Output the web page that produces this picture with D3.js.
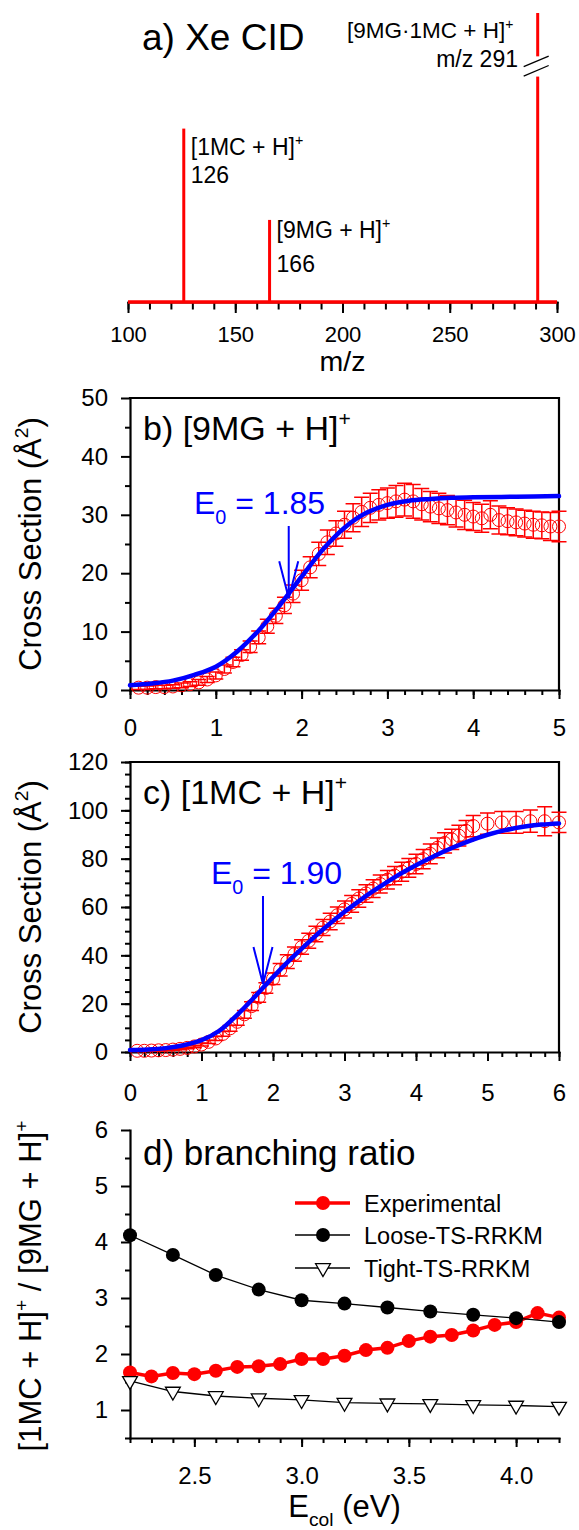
<!DOCTYPE html>
<html>
<head>
<meta charset="utf-8">
<script src="https://cdn.jsdelivr.net/npm/d3@7"></script>
<style>
  body { margin: 0; background: #fff; }
  text { font-family: "Liberation Sans", Arial, sans-serif; }
</style>
</head>
<body>
<svg id="fig" width="579" height="1530"></svg>
<script>
// a) mass spectrum
var mzPeaks = [126, 166, 291];
var peakHeights = [60, 28.4, 100];
var peakBreak = [78, 85];
var mzTicks = [100, 150, 200, 250, 300];

// b) [9MG+H]+ cross section
var eB = [0.1, 0.2, 0.3, 0.4, 0.5, 0.6, 0.7, 0.8, 0.9, 1.0,
  1.1, 1.2, 1.3, 1.4, 1.5, 1.6, 1.7, 1.8, 1.9, 2.0,
  2.1, 2.2, 2.3, 2.4, 2.5, 2.6, 2.7, 2.8, 2.9, 3.0,
  3.1, 3.2, 3.3, 3.4, 3.5, 3.6, 3.7, 3.8, 3.9, 4.0,
  4.1, 4.2, 4.3, 4.4, 4.5, 4.6, 4.7, 4.8, 4.9, 5.0];
var sigB = [0.4, 0.4, 0.5, 0.5, 0.6, 0.8, 1.0, 1.3, 1.8, 2.5,
  3.6, 4.8, 6.0, 7.4, 9.0, 10.9, 12.7, 14.5, 16.5, 18.8,
  21.0, 23.3, 25.3, 26.8, 28.3, 29.5, 30.5, 31.2, 31.7, 32.0,
  32.3, 32.6, 32.3, 31.8, 31.4, 31.1, 30.8, 30.4, 30.0, 29.7,
  29.4, 30.0, 29.1, 28.9, 28.7, 28.5, 28.3, 28.2, 28.0, 28.0];
var errB = [0.3, 0.3, 0.3, 0.3, 0.3, 0.4, 0.4, 0.5, 0.5, 0.6,
  0.7, 0.8, 0.9, 1.0, 1.1, 1.2, 1.3, 1.4, 1.5, 1.7,
  1.8, 2.0, 2.1, 2.2, 2.3, 2.4, 2.5, 2.5, 2.6, 2.6,
  2.7, 2.8, 2.9, 2.7, 2.6, 2.6, 2.5, 2.5, 2.5, 2.4,
  2.4, 2.4, 2.4, 2.3, 2.3, 2.3, 2.3, 2.3, 2.4, 2.6];
var fitBE = [0, 0.25, 0.5, 0.75, 1, 1.25, 1.5, 1.75, 2, 2.25, 2.5, 2.75, 3, 3.25, 3.5, 3.75, 4, 4.5, 5];
var fitBV = [0.8, 1.1, 1.6, 2.6, 4.0, 6.6, 10.2, 14.6, 19.4, 24.1, 27.8, 30.3, 31.7, 32.4, 32.7, 32.9, 33.0, 33.1, 33.2];
var arrowB = { e: 1.85, top: 28.1, tip: 15.7 };

// c) [1MC+H]+ cross section
var eC = [0.1, 0.2, 0.3, 0.4, 0.5, 0.6, 0.7, 0.8, 0.9, 1.0,
  1.1, 1.2, 1.3, 1.4, 1.5, 1.6, 1.7, 1.8, 1.9, 2.0,
  2.1, 2.2, 2.3, 2.4, 2.5, 2.6, 2.7, 2.8, 2.9, 3.0,
  3.1, 3.2, 3.3, 3.4, 3.5, 3.6, 3.7, 3.8, 3.9, 4.0,
  4.1, 4.2, 4.3, 4.4, 4.5, 4.6, 4.7, 4.8,
  5.0, 5.2, 5.4, 5.6, 5.8, 6.0];
var sigC = [0.5, 0.5, 0.6, 0.7, 0.8, 1.0, 1.3, 1.7, 2.3, 3.1,
  4.2, 5.6, 7.5, 9.8, 12.5, 15.6, 19.0, 22.6, 26.5, 30.3,
  34.0, 37.4, 40.5, 43.4, 46.0, 48.8, 51.5, 54.0, 56.6, 59.0,
  61.3, 63.5, 65.6, 67.6, 69.5, 71.3, 73.0, 74.6, 76.2, 77.8,
  79.8, 82.0, 84.5, 86.5, 88.0, 89.5, 91.5, 93.5,
  94.5, 95.0, 95.0, 95.5, 95.5, 95.0];
var errC = [0.3, 0.3, 0.3, 0.3, 0.3, 0.3, 0.4, 0.4, 0.5, 0.6,
  0.7, 0.8, 1.0, 1.2, 1.4, 1.6, 1.8, 2.0, 2.2, 2.4,
  2.6, 2.8, 2.9, 3.0, 3.1, 3.2, 3.3, 3.4, 3.4, 3.5,
  3.5, 3.6, 3.6, 3.7, 3.7, 3.8, 3.8, 3.9, 3.9, 4.0,
  4.0, 4.1, 4.1, 4.2, 4.2, 4.3, 4.3, 4.4,
  4.4, 4.5, 4.5, 4.6, 6.0, 4.2];
var fitCE = [0, 0.25, 0.5, 0.75, 1, 1.25, 1.5, 1.75, 2, 2.25, 2.5, 2.75, 3, 3.25, 3.5, 3.75, 4, 4.25, 4.5, 4.75, 5, 5.25, 5.5, 5.75, 6];
var fitCV = [0.8, 1.0, 1.6, 2.8, 4.9, 8.8, 15.4, 23.0, 31.0, 38.5, 45.5, 52.0, 58.0, 63.5, 68.5, 73.2, 77.3, 81.0, 84.4, 87.4, 89.9, 91.8, 93.2, 94.1, 94.6];
var arrowC = { e: 1.86, top: 64.6, tip: 28.1 };

// d) branching ratio
var eColExp = [2.2, 2.3, 2.4, 2.5, 2.6, 2.7, 2.8, 2.9, 3.0, 3.1, 3.2, 3.3, 3.4, 3.5, 3.6, 3.7, 3.8, 3.9, 4.0, 4.1, 4.2];
var ratioExp = [1.67, 1.60, 1.66, 1.64, 1.70, 1.77, 1.78, 1.82, 1.91, 1.91, 1.97, 2.07, 2.11, 2.23, 2.31, 2.34, 2.42, 2.52, 2.57, 2.73, 2.65];
var eColModel = [2.2, 2.4, 2.6, 2.8, 3.0, 3.2, 3.4, 3.6, 3.8, 4.0, 4.2];
var ratioLoose = [4.12, 3.77, 3.41, 3.15, 2.96, 2.90, 2.83, 2.76, 2.70, 2.64, 2.57];
var ratioTight = [1.52, 1.33, 1.25, 1.21, 1.18, 1.13, 1.12, 1.11, 1.09, 1.08, 1.06];
var legendNames = ["Experimental", "Loose-TS-RRKM", "Tight-TS-RRKM"];

var svg = d3.select("#fig");
var RED = "#ff0000", BLUE = "#0000ff";

function richText(parent, x, y, size, parts) {
  var t = parent.append("text").attr("x", x).attr("y", y).attr("font-size", size);
  var shift = 0;
  parts.forEach(function (p) {
    var s = p[1] === "sup" ? -0.42 * size : p[1] === "sub" ? 0.3 * size : 0;
    t.append("tspan")
      .attr("dy", s - shift)
      .attr("font-size", p[1] ? 0.62 * size : size)
      .text(p[0]);
    shift = s;
  });
  return t;
}

function yTitle(cx, cy, parts) {
  var g = svg.append("g").attr("transform", "translate(" + cx + "," + cy + ") rotate(-90)");
  richText(g, 0, 0, 31, parts).attr("text-anchor", "middle");
}

function styleAxis(ax, size) {
  ax.attr("font-size", size).attr("font-family", null);
  ax.select(".domain").attr("stroke-width", 2.2).attr("stroke-linecap", "square");
  ax.selectAll(".tick line").attr("stroke-width", 2);
}

function xAxis(x, y0, majors, minors, fmt, size, pad, majLen, minLen) {
  var mn = svg.append("g").attr("transform", "translate(0," + y0 + ")")
    .call(d3.axisBottom(x).tickValues(minors).tickSize(minLen).tickFormat("").tickSizeOuter(0));
  mn.select(".domain").remove();
  mn.selectAll(".tick line").attr("stroke-width", 2);
  var ax = svg.append("g").attr("transform", "translate(0," + y0 + ")")
    .call(d3.axisBottom(x).tickValues(majors).tickSize(majLen).tickPadding(pad).tickFormat(fmt).tickSizeOuter(0));
  styleAxis(ax, size);
}

function yAxis(y, x0, majors, minors, fmt) {
  var mn = svg.append("g").attr("transform", "translate(" + x0 + ",0)")
    .call(d3.axisLeft(y).tickValues(minors).tickSize(5).tickFormat("").tickSizeOuter(0));
  mn.select(".domain").remove();
  mn.selectAll(".tick line").attr("stroke-width", 2);
  var ax = svg.append("g").attr("transform", "translate(" + x0 + ",0)")
    .call(d3.axisLeft(y).tickValues(majors).tickSize(9).tickPadding(13).tickFormat(fmt).tickSizeOuter(0));
  styleAxis(ax, 24);
}

function frame(x, y) {
  svg.append("path")
    .attr("d", "M" + x.range()[0] + "," + y.range()[1] + "H" + x.range()[1] + "V" + y.range()[0])
    .attr("fill", "none").attr("stroke", "#000").attr("stroke-width", 2.2)
    .attr("stroke-linecap", "square");
}

function steps(a, b, s) {
  return d3.range(Math.round((b - a) / s) + 1).map(function (i) { return +(a + i * s).toFixed(3); });
}

// ---------- a) Xe CID ----------
var xa = d3.scaleLinear().domain([100, 300]).range([128, 557]);
var ya = d3.scaleLinear().domain([0, 100]).range([302, 13]);

xAxis(xa, ya(0), mzTicks, steps(100, 300, 10), d3.format("d"), 22, 13, 11, 7.5);

svg.append("line")
  .attr("x1", xa(100)).attr("x2", xa(300))
  .attr("y1", ya(0)).attr("y2", ya(0))
  .attr("stroke", RED).attr("stroke-width", 3.5);

mzPeaks.forEach(function (mz, i) {
  var segs = peakHeights[i] > peakBreak[1] ? [[0, peakBreak[0]], [peakBreak[1], peakHeights[i]]] : [[0, peakHeights[i]]];
  segs.forEach(function (s) {
    svg.append("line")
      .attr("x1", xa(mz)).attr("x2", xa(mz))
      .attr("y1", ya(s[0])).attr("y2", ya(s[1]))
      .attr("stroke", RED).attr("stroke-width", 3);
  });
  if (peakHeights[i] > peakBreak[1]) {
    [ya(peakBreak[1]) + 5, ya(peakBreak[0]) - 5.8].forEach(function (yy) {
      svg.append("line")
        .attr("x1", xa(mz) - 14).attr("x2", xa(mz) + 11)
        .attr("y1", yy + 5.3).attr("y2", yy - 5.3)
        .attr("stroke", "#000").attr("stroke-width", 1.3);
    });
  }
});

svg.append("text").attr("x", 142).attr("y", 50).attr("font-size", 37).text("a) Xe CID");
richText(svg, 347, 38, 22.5, [["[9MG\u00b71MC + H]", ""], ["+", "sup"]]);
svg.append("text").attr("x", 518).attr("y", 67).attr("font-size", 23)
  .attr("text-anchor", "end").text("m/z 291");
richText(svg, xa(mzPeaks[0]) + 7, 155, 23, [["[1MC + H]", ""], ["+", "sup"]]);
svg.append("text").attr("x", xa(mzPeaks[0]) + 7).attr("y", 183).attr("font-size", 23).text(mzPeaks[0]);
richText(svg, xa(mzPeaks[1]) + 7, 238, 23, [["[9MG + H]", ""], ["+", "sup"]]);
svg.append("text").attr("x", xa(mzPeaks[1]) + 7).attr("y", 272).attr("font-size", 23).text(mzPeaks[1]);
svg.append("text").attr("x", (xa(100) + xa(300)) / 2).attr("y", 371)
  .attr("font-size", 28.5).attr("text-anchor", "middle").text("m/z");

// ---------- cross section panels ----------
function crossPanel(x, y, es, sig, err, fitE, fitV, arrow, majX, minX, majY, minY, xBase) {
  frame(x, y);
  xAxis(x, y.range()[0], majX, minX, d3.format("d"), 24, xBase, 9, 5);
  yAxis(y, x.range()[0], majY, minY, d3.format("d"));

  var pts = es.map(function (e, i) { return { e: e, v: sig[i], s: err[i] }; });
  var g = svg.append("g").attr("stroke", RED).attr("fill", "none");
  g.selectAll(".eb").data(pts).enter().append("path")
    .attr("stroke-width", 1.5)
    .attr("d", function (d) {
      var cx = x(d.e), lo = y(Math.max(0, d.v - d.s)), hi = y(d.v + d.s);
      return "M" + cx + "," + lo + "V" + hi +
        "M" + (cx - 7.5) + "," + hi + "H" + (cx + 7.5) +
        "M" + (cx - 7.5) + "," + lo + "H" + (cx + 7.5);
    });
  g.selectAll("circle").data(pts).enter().append("circle")
    .attr("cx", function (d) { return x(d.e); })
    .attr("cy", function (d) { return y(d.v); })
    .attr("r", 6.5).attr("stroke-width", 1);

  svg.append("path")
    .datum(fitE.map(function (e, i) { return [e, fitV[i]]; }))
    .attr("fill", "none").attr("stroke", BLUE).attr("stroke-width", 4.5)
    .attr("stroke-linecap", "round")
    .attr("d", d3.line().x(function (d) { return x(d[0]); }).y(function (d) { return y(d[1]); })
      .curve(d3.curveCatmullRom.alpha(0.5)));

  var ax = x(arrow.e), tip = y(arrow.tip);
  svg.append("path")
    .attr("d", "M" + ax + "," + y(arrow.top) + "V" + tip +
      "M" + (ax - 9.5) + "," + (tip - 37) + "L" + ax + "," + tip + "L" + (ax + 9.5) + "," + (tip - 37))
    .attr("fill", "none").attr("stroke", BLUE).attr("stroke-width", 2);
}

var xb = d3.scaleLinear().domain([0, 5]).range([130, 559]);
var yb = d3.scaleLinear().domain([0, 50]).range([690, 398]);
crossPanel(xb, yb, eB, sigB, errB, fitBE, fitBV, arrowB,
  d3.range(0, 6), steps(0, 5, 0.2), d3.range(0, 51, 10), steps(5, 45, 10), 20);
richText(svg, 143, 440, 34, [["b) [9MG + H]", ""], ["+", "sup"]]);
richText(svg, 194, 514, 32, [["E", ""], ["0", "sub"], [" = 1.85", ""]]).attr("fill", BLUE);
yTitle(41, 544, [["Cross Section (\u00c5", ""], ["2", "sup"], [")", ""]]);

var xc = d3.scaleLinear().domain([0, 6]).range([130, 559]);
var yc = d3.scaleLinear().domain([0, 120]).range([1052, 762]);
crossPanel(xc, yc, eC, sigC, errC, fitCE, fitCV, arrowC,
  d3.range(0, 7), steps(0, 6, 0.2), d3.range(0, 121, 20), steps(0, 120, 5), 23);
richText(svg, 143, 804, 34, [["c) [1MC + H]", ""], ["+", "sup"]]);
richText(svg, 211, 884, 32, [["E", ""], ["0", "sub"], [" = 1.90", ""]]).attr("fill", BLUE);
yTitle(41, 907, [["Cross Section (\u00c5", ""], ["2", "sup"], [")", ""]]);

// ---------- d) branching ratio ----------
var xd = d3.scaleLinear().domain([2.2, 4.2]).range([130, 559]);
var yd = d3.scaleLinear().domain([0.5, 6]).range([1438, 1130]);
xAxis(xd, yd(0.5), [2.5, 3.0, 3.5, 4.0], steps(2.2, 4.2, 0.1), d3.format(".1f"), 24, 20, 9, 5);
yAxis(yd, xd(2.2), d3.range(1, 7), steps(0.5, 5.5, 1), d3.format("d"));

var series = [
  { name: legendNames[0], e: eColExp, r: ratioExp, color: RED, lw: 3.5, mark: "dot" },
  { name: legendNames[1], e: eColModel, r: ratioLoose, color: "#000", lw: 1.3, mark: "dot" },
  { name: legendNames[2], e: eColModel, r: ratioTight, color: "#000", lw: 1.3, mark: "tri" }
];
var tri = d3.symbol().type(d3.symbolTriangle).size(95);

function marker(g, s, cx, cy) {
  if (s.mark === "dot") {
    g.append("circle").attr("cx", cx).attr("cy", cy).attr("r", 7).attr("fill", s.color);
  } else {
    g.append("path").attr("d", tri())
      .attr("transform", "translate(" + cx + "," + cy + ") rotate(180)")
      .attr("fill", "#fff").attr("stroke", "#000").attr("stroke-width", 1.3);
  }
}

series.forEach(function (s) {
  var pts = s.e.map(function (e, i) { return [e, s.r[i]]; });
  var g = svg.append("g");
  g.append("path").datum(pts)
    .attr("fill", "none").attr("stroke", s.color).attr("stroke-width", s.lw)
    .attr("d", d3.line().x(function (d) { return xd(d[0]); }).y(function (d) { return yd(d[1]); }));
  pts.forEach(function (d) { marker(g, s, xd(d[0]), yd(d[1])); });
});

var legRows = [1203, 1235, 1268];
series.forEach(function (s, i) {
  var g = svg.append("g");
  g.append("line").attr("x1", 295).attr("x2", 350).attr("y1", legRows[i]).attr("y2", legRows[i])
    .attr("stroke", s.color).attr("stroke-width", s.lw);
  marker(g, s, 323, legRows[i]);
  g.append("text").attr("x", 364).attr("y", legRows[i] + 8.5).attr("font-size", 23.5).text(s.name);
});

svg.append("text").attr("x", 143).attr("y", 1165).attr("font-size", 35).text("d) branching ratio");
richText(svg, (xd.range()[0] + xd.range()[1]) / 2, 1517, 31, [["E", ""], ["col", "sub"], [" (eV)", ""]])
  .attr("text-anchor", "middle");
yTitle(41, 1286, [["[1MC + H]", ""], ["+", "sup"], [" / [9MG + H]", ""], ["+", "sup"]]);
</script>
</body>
</html>
